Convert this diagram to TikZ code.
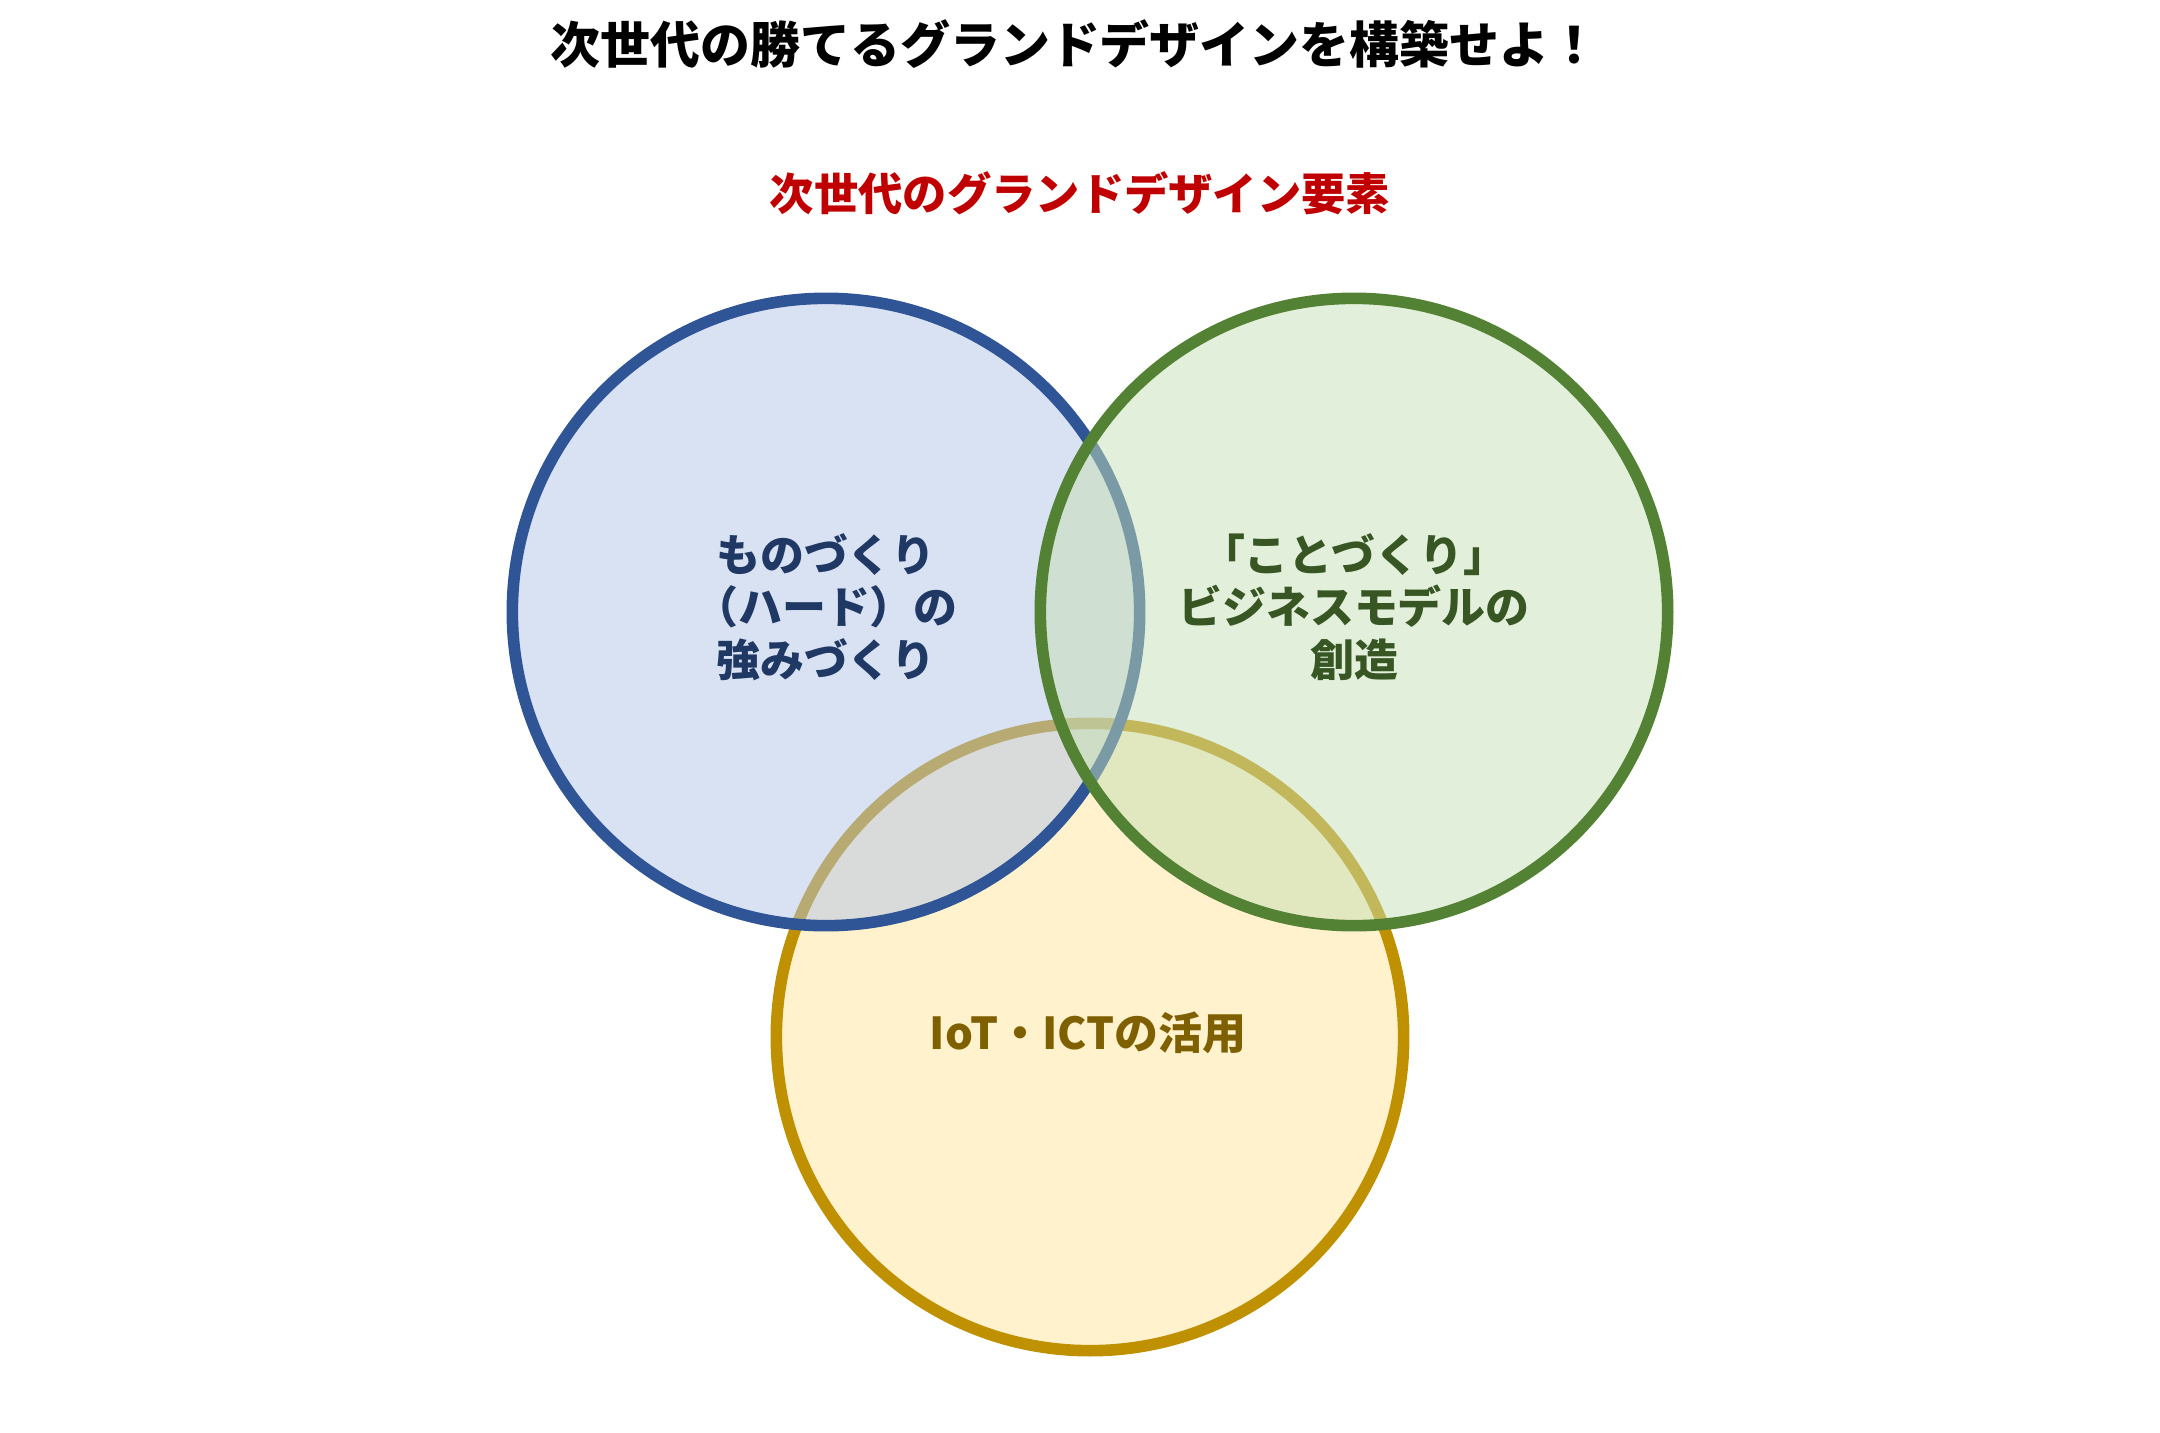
\documentclass[tikz,border=0pt]{standalone}
\usepackage{fontspec}
\setmainfont{Noto Sans CJK JP}
\usetikzlibrary{positioning}
\definecolor{monoline}{HTML}{2F5597}
\definecolor{monofill}{HTML}{B3C5E7}
\definecolor{kotoline}{HTML}{548235}
\definecolor{kotofill}{HTML}{C5DFB5}
\definecolor{iotline}{HTML}{BF9000}
\definecolor{iotfill}{HTML}{FFF2CC}
\definecolor{monotext}{HTML}{1F3864}
\definecolor{kototext}{HTML}{375623}
\definecolor{iottext}{HTML}{7F6000}
\definecolor{subred}{HTML}{C00000}
\tikzset{
  ring/.style={circle, draw, line width=3.3pt, minimum size=6.27cm, inner sep=0pt},
  ringlabel/.style={align=center, font=\fontsize{12.5pt}{14.9pt}\selectfont\bfseries},
  headline/.style={font=\fontsize{14.2pt}{17pt}\selectfont\bfseries},
  subhead/.style={font=\fontsize{12.6pt}{15pt}\selectfont\bfseries, text=subred}
}
\begin{document}
\begin{tikzpicture}[x=0.01cm, y=-0.01cm]
  \useasboundingbox (0,0) rectangle (2160,1433);
  \node[headline] (title) at (1075,44) {次世代の勝てるグランドデザインを構築せよ！};
  \node[subhead] (subtitle) at (1080,193) {次世代のグランドデザイン要素};
  % rings: yellow first, the two upper ones half see-through
  \node[ring, draw=iotline, fill=iotfill] (iot) at (1090,1037) {};
  \node[ring, draw=monoline, fill=monofill, fill opacity=0.5] (mono) at (826,612) {};
  \node[ring, draw=kotoline, fill=kotofill, fill opacity=0.5] (koto) at (1354,612) {};
  % labels
  \node[ringlabel, text=monotext] (mono-label) at (826,607) {ものづくり\\（ハード）の\\強みづくり};
  \node[ringlabel, text=kototext] (koto-label) at (1354,607) {「ことづくり」\\ビジネスモデルの\\創造};
  \node[ringlabel, text=iottext] (iot-label) at (1088,1033) {IoT・ICTの活用};
\end{tikzpicture}
\end{document}
